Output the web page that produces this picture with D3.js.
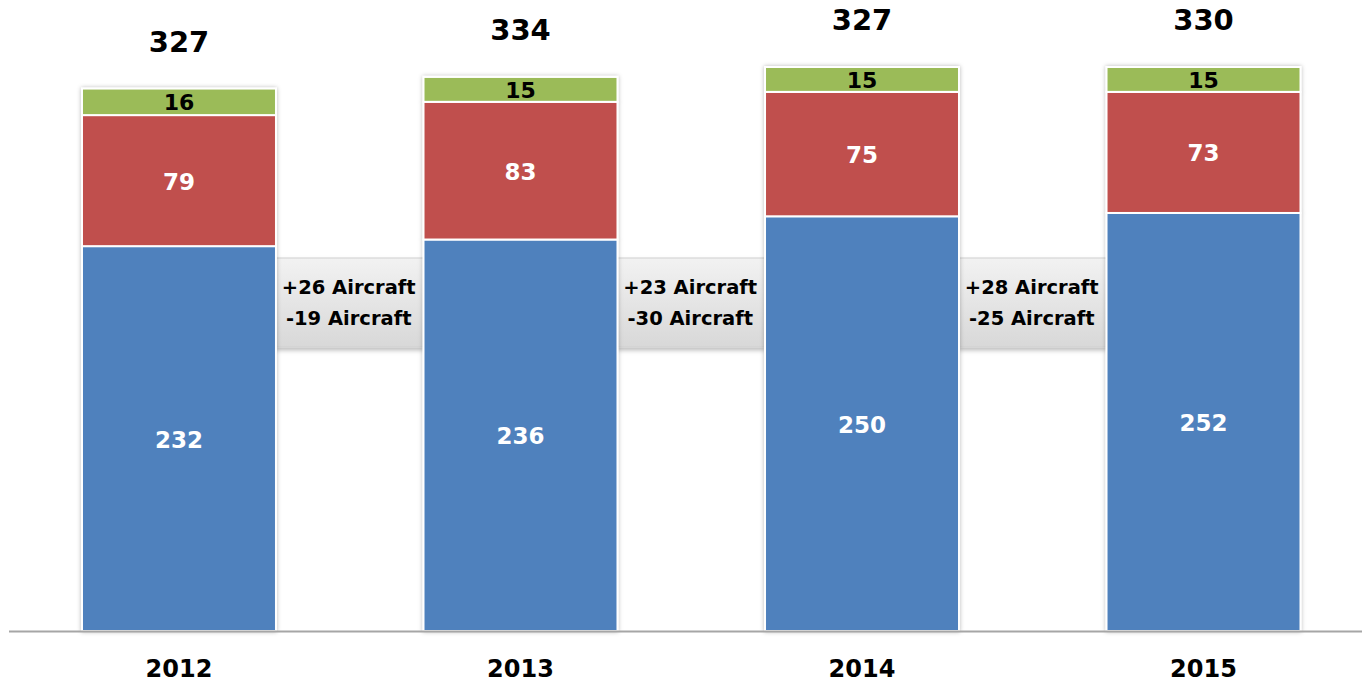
<!DOCTYPE html>
<html>
<head>
<meta charset="utf-8">
<script src="https://cdn.jsdelivr.net/npm/d3@7"></script>
<style>
  body { margin: 0; background: #fff; }
  svg text { font-family: "DejaVu Sans", Verdana, sans-serif; font-weight: bold; }
</style>
</head>
<body>
<div id="chart"></div>
<script>
// fleet per year, stacked bottom to top
const years     = ["2012", "2013", "2014", "2015"];
const blueVals  = [232, 236, 250, 252];
const redVals   = [79, 83, 75, 73];
const greenVals = [16, 15, 15, 15];
const totals    = [327, 334, 327, 330];
// changes between consecutive years
const added     = ["+26 Aircraft", "+23 Aircraft", "+28 Aircraft"];
const removed   = ["-19 Aircraft", "-30 Aircraft", "-25 Aircraft"];

const W = 1362, H = 683, base = 631;

const svg = d3.select("#chart").append("svg")
    .attr("width", W)
    .attr("height", H);

const defs = svg.append("defs");
defs.append("filter").attr("id", "barShadow")
    .attr("x", "-10%").attr("y", "-10%").attr("width", "120%").attr("height", "120%")
    .append("feDropShadow")
    .attr("dx", 0).attr("dy", 0).attr("stdDeviation", 2.2)
    .attr("flood-color", "#000").attr("flood-opacity", 0.28);
defs.append("filter").attr("id", "boxShadow")
    .attr("x", "-5%").attr("y", "-10%").attr("width", "110%").attr("height", "130%")
    .append("feDropShadow")
    .attr("dx", 0).attr("dy", 3).attr("stdDeviation", 2)
    .attr("flood-color", "#000").attr("flood-opacity", 0.25);
const grad = defs.append("linearGradient").attr("id", "boxGrad")
    .attr("x1", 0).attr("y1", 0).attr("x2", 0).attr("y2", 1);
grad.append("stop").attr("offset", "0%").attr("stop-color", "#f2f2f2");
grad.append("stop").attr("offset", "100%").attr("stop-color", "#d8d8d8");

const x = d3.scaleBand()
    .domain(years)
    .range([13.7, 1368.8])
    .paddingInner(0.432)
    .paddingOuter(0.2);

const y = d3.scaleLinear()
    .domain([0, 340])
    .range([base, 67]);

// stacked data
const rows = years.map((yr, i) => ({ year: yr, blue: blueVals[i], red: redVals[i], green: greenVals[i] }));
const series = d3.stack().keys(["blue", "red", "green"])(rows);
const colors = { blue: "#4f81bd", red: "#c0504d", green: "#9bbb59" };
const labelColors = { blue: "#fff", red: "#fff", green: "#000" };
const labelSize = { blue: 23, red: 23, green: 22 };

// connector boxes between bars
const boxTop = 258, boxBottom = 347;
const boxes = svg.append("g");
added.forEach((txt, i) => {
    const x0 = x(years[i]) + x.bandwidth();
    const x1 = x(years[i + 1]);
    boxes.append("rect")
        .attr("x", x0).attr("y", boxTop)
        .attr("width", x1 - x0).attr("height", boxBottom - boxTop)
        .attr("fill", "url(#boxGrad)")
        .attr("stroke", "#d0d0d0").attr("stroke-width", 1)
        .attr("filter", "url(#boxShadow)");
    const cx = (x0 + x1) / 2 - 1, cy = (boxTop + boxBottom) / 2;
    boxes.append("text")
        .attr("x", cx).attr("y", cy - 15)
        .attr("text-anchor", "middle").attr("dominant-baseline", "central")
        .style("font-size", "19.5px").attr("fill", "#000")
        .text(txt);
    boxes.append("text")
        .attr("x", cx).attr("y", cy + 16)
        .attr("text-anchor", "middle").attr("dominant-baseline", "central")
        .style("font-size", "19.5px").attr("fill", "#000")
        .text(removed[i]);
});

// bars
const bars = svg.append("g").attr("filter", "url(#barShadow)");
series.forEach(s => {
    bars.selectAll(null)
        .data(s)
        .enter()
        .append("rect")
        .attr("x", d => x(d.data.year))
        .attr("y", d => y(d[1]))
        .attr("width", x.bandwidth())
        .attr("height", d => y(d[0]) - y(d[1]))
        .attr("fill", colors[s.key])
        .attr("stroke", "#fff")
        .attr("stroke-width", 2);
});

// segment labels
series.forEach(s => {
    svg.selectAll(null)
        .data(s)
        .enter()
        .append("text")
        .attr("x", d => x(d.data.year) + x.bandwidth() / 2)
        .attr("y", d => (y(d[0]) + y(d[1])) / 2 + 1)
        .attr("text-anchor", "middle")
        .attr("dominant-baseline", "central")
        .attr("fill", labelColors[s.key])
        .style("font-size", labelSize[s.key] + "px")
        .text(d => d.data[s.key]);
});

// total labels above bars
const last = series[series.length - 1];
svg.selectAll(null)
    .data(last)
    .enter()
    .append("text")
    .attr("x", d => x(d.data.year) + x.bandwidth() / 2)
    .attr("y", d => y(d[1]) - 37)
    .attr("text-anchor", "middle")
    .attr("fill", "#000")
    .style("font-size", "29px")
    .text((d, i) => totals[i]);

// baseline
svg.append("line")
    .attr("x1", 9).attr("x2", W)
    .attr("y1", base + 0.5).attr("y2", base + 0.5)
    .attr("stroke", "#a6a6a6").attr("stroke-width", 2);

// year labels
svg.selectAll(null)
    .data(years)
    .enter()
    .append("text")
    .attr("x", d => x(d) + x.bandwidth() / 2)
    .attr("y", 677)
    .attr("text-anchor", "middle")
    .attr("fill", "#000")
    .style("font-size", "24px")
    .text(d => d);
</script>
</body>
</html>
